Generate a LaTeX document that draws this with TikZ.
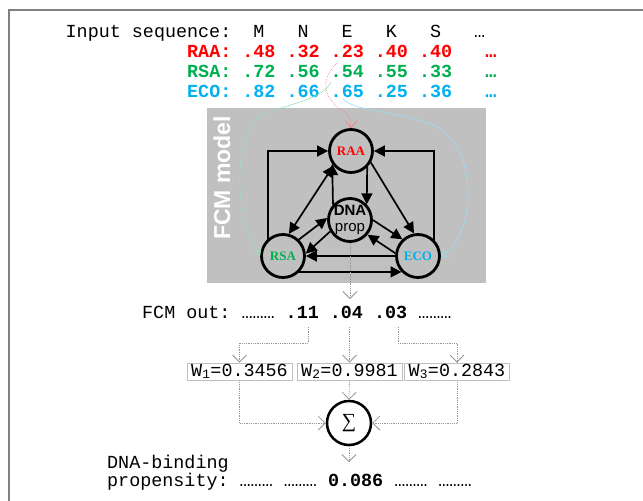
\documentclass[tikz,border=0pt]{standalone}
\usepackage{fontspec}
\usetikzlibrary{arrows.meta}

\newfontfamily\courfont{Liberation Mono}
\newfontfamily\arialfont{Liberation Sans}
\newfontfamily\timesfont{Liberation Serif}

\definecolor{raared}{RGB}{255,0,0}
\definecolor{rsagreen}{RGB}{0,176,80}
\definecolor{ecoblue}{RGB}{0,176,240}
\definecolor{fcmgray}{RGB}{192,192,192}
\definecolor{flowgray}{RGB}{150,150,150}
\definecolor{framegray}{RGB}{128,128,128}

\tikzset{
  seqtext/.style={font=\courfont\fontsize{18.4}{20}\selectfont\frenchspacing, inner sep=0pt, anchor=base west},
  fcmnode/.style={circle, draw, line width=2.8pt, minimum size=43pt, inner sep=0pt,
    font=\timesfont\bfseries\fontsize{13}{13}\selectfont},
  fcmedge/.style={line width=1.7pt, -{Triangle[length=11pt,width=11pt]}},
  flowline/.style={draw=flowgray, densely dotted, line width=0.8pt, -{Straight Barb[length=7pt,width=14pt]}},
  feedline/.style={line width=0.6pt, -{Straight Barb[length=7pt,width=12pt]}},
  wbox/.style={draw=flowgray!60, line width=0.8pt, font=\courfont\fontsize{18.4}{20}\selectfont,
    minimum width=105pt, text height=11pt, text depth=2pt, inner xsep=0pt, inner ysep=2pt}
}

\begin{document}
\begin{tikzpicture}[x=1pt,y=-1pt]

\useasboundingbox (0,0) rectangle (643,501);
\draw[framegray, line width=1.5pt] (9,501) -- (9,10) -- (643,10);

\node[seqtext] (inseq) at (65.5,37) {Input~sequence:~~M~~~N~~~E~~~K~~~S~~~…};
\node[seqtext, raared] (raarow) at (187,57.3) {\bfseries RAA:~.48~.32~.23~.40~.40~~~…};
\node[seqtext, rsagreen] (rsarow) at (187,77.6) {\bfseries RSA:~.72~.56~.54~.55~.33~~~…};
\node[seqtext, ecoblue] (ecorow) at (187,97.9) {\bfseries ECO:~.82~.66~.65~.25~.36~~~…};

\fill[fcmgray] (207,108) rectangle (486,283);
\node[rotate=90, white, font=\arialfont\bfseries\fontsize{23}{23}\selectfont] (fcmlabel) at (222,178) {FCM model};

\node[fcmnode, text=raared] (raa) at (351,151) {RAA};
\node[fcmnode] (dna) at (350,220) {};
\node[font=\arialfont\fontsize{15}{16}\selectfont, align=center, inner sep=0pt] (dnalbl) at (dna) {\textbf{DNA}\\prop};
\node[fcmnode, text=rsagreen] (rsa) at (283,256) {RSA};
\node[fcmnode, text=ecoblue] (eco) at (418,256) {ECO};

\draw[fcmedge] (rsa.131) |- (raa.west);
\draw[fcmedge] (eco.45) |- (raa.east);
\draw[fcmedge, {Triangle[length=11pt,width=11pt]}-{Triangle[length=11pt,width=11pt]}] (raa.220) -- (rsa.75);
\foreach \s/\t in {raa.330/eco.100, dna.138/raa.215, raa.315/dna.43,
    rsa.46/dna.175, dna.210/rsa.6, dna.0/eco.133, eco.173/dna.320,
    eco.west/rsa.east, rsa.-44/eco.-136}
{
    \draw[fcmedge] (\s) -- (\t);
};

\coordinate (c23) at (338,62);
\coordinate (c54) at (331,82);
\coordinate (c65) at (343,99);
\draw[feedline, raared!55, densely dotted] (c23) .. controls (318,80) and (325,100) .. (342,110)
    .. controls (349,114) and (351,120) .. (raa.north);
\draw[feedline, rsagreen!40] (c54) .. controls (322,100) and (290,103) .. (262,115)
    .. controls (238,128) and (228,205) .. (rsa.west);
\draw[feedline, ecoblue!40] (c65) .. controls (355,112) and (405,112) .. (435,126)
    .. controls (478,146) and (478,235) .. (eco.east);

\coordinate (fcmtip) at (350,299);
\draw[flowline] (dna.south) -- (fcmtip);

\node[seqtext] (fcmout) at (142,318) {FCM~out:~………~\textbf{.11~.04~.03}~………};

\node[wbox] (w1) at (239.5,371.5) {W\textsubscript{1}=0.3456};
\node[wbox] (w2) at (349.5,371.5) {W\textsubscript{2}=0.9981};
\node[wbox] (w3) at (457,371.5) {W\textsubscript{3}=0.2843};

\coordinate (o11) at (308,327);
\coordinate (o04) at (349.5,327);
\coordinate (o03) at (398,327);
\draw[flowline] (o11) -- ++(0,16) -| (w1.north);
\draw[flowline] (o04) -- (w2.north);
\draw[flowline] (o03) -- ++(0,16) -| (w3.north);

\node[circle, draw, line width=2.5pt, minimum size=44pt, inner sep=0pt,
    font=\timesfont\fontsize{20}{20}\selectfont] (sum) at (349,423) {∑};
\draw[flowline] (w1.south) |- (sum.west);
\draw[flowline] (w2.south) -- (sum.north);
\draw[flowline] (w3.south) |- (sum.east);

\coordinate (bindtip) at (349,462);
\draw[flowline] (sum.south) -- (bindtip);

\node[seqtext] (dnabind) at (107,468) {DNA-binding};
\node[seqtext] (propen) at (107,486) {propensity:~………~………~\textbf{0.086}~………~………};

\end{tikzpicture}
\end{document}
